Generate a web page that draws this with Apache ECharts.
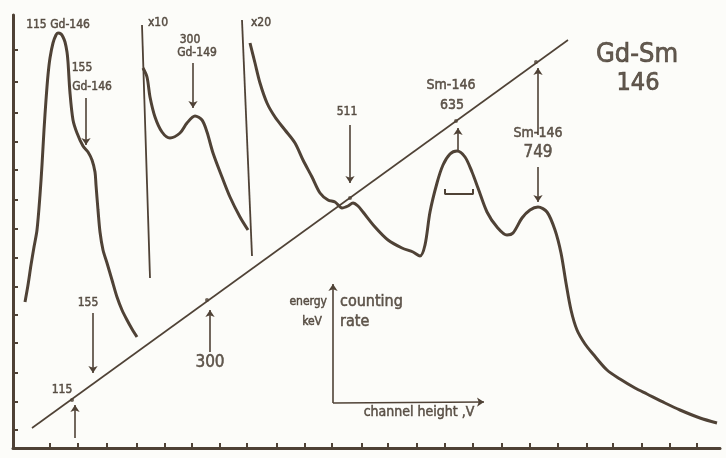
<!DOCTYPE html>
<html><head><meta charset="utf-8">
<script src="https://cdn.jsdelivr.net/npm/echarts@6/dist/echarts.min.js"></script>
<style>html,body{margin:0;padding:0;background:#fcfcf9}#c{width:726px;height:458px}</style>
</head><body><div id="c"></div><script>
// ---- data (channel height in arbitrary units, counting rate in arbitrary units) ----
const mainPeak = [[1.2,14.6],[1.5,16.3],[1.8,18.3],[2.1,20.1],[2.4,21.8],[2.7,25.3],[2.9,28.3],[3.1,31.8],[3.3,34.8],[3.5,37.3],[3.7,39.0],[4.0,40.5],[4.3,41.3],[4.5,41.5],[4.8,41.4],[5.0,41.1],[5.2,40.6],[5.4,39.6],[5.5,38.6],[5.7,35.5],[6.0,32.8],[6.4,31.5],[7.0,30.2],[7.5,29.6],[7.9,28.8],[8.2,27.6],[8.3,26.3],[8.5,23.8],[8.7,21.6],[9.0,19.8],[9.4,18.5],[9.9,16.8],[10.4,15.1],[10.9,13.8],[11.4,12.8],[11.9,11.9],[12.4,11.1]];
const x10Curve = [[13.0,38.0],[13.4,37.1],[13.7,35.1],[14.2,33.1],[14.9,31.6],[15.7,31.0],[16.7,31.5],[17.4,32.5],[18.2,33.2],[18.9,32.8],[19.4,31.6],[20.0,29.5],[20.9,27.1],[21.7,25.1],[22.7,23.1],[23.5,21.8]];
const x20Curve = [[23.7,40.5],[24.2,38.5],[24.7,36.5],[25.4,34.5],[26.2,33.1],[27.2,31.8],[28.2,30.5],[29.0,28.8],[29.9,27.1],[30.7,25.5],[31.5,24.8],[32.2,24.6],[32.9,24.0],[33.5,24.2],[34.0,24.5],[34.5,24.2],[35.0,23.6],[36.2,22.1],[37.5,20.8],[38.9,20.0],[40.0,19.6],[40.7,19.2],[41.2,20.3],[41.7,23.6],[42.4,26.5],[43.0,28.3],[43.7,29.4],[44.4,29.7],[45.2,29.1],[45.9,27.6],[46.5,26.0],[47.4,23.6],[48.4,22.1],[49.4,21.3],[50.0,21.5],[50.9,23.0],[51.7,23.8],[52.5,24.1],[53.4,23.6],[54.2,21.8],[54.8,19.5],[55.3,16.5],[55.8,13.8],[56.4,11.8],[57.2,10.4],[58.0,9.4],[59.4,7.8],[60.7,6.9],[62.2,6.0],[63.4,5.4],[65.2,4.5],[66.7,3.8],[68.7,3.0],[70.4,2.5]];
const x10Marker = [[12.9,42.3],[13.7,17.0]];
const x20Marker = [[22.9,42.8],[23.9,19.2]];
const calibLine = [[1.9,2.0],[55.5,40.8]];
const calibPoints = [[5.9,4.8,115],[19.4,14.8,300],[33.7,25.0,511],[44.3,32.7,635],[52.3,38.6,749]];
const fwhmBar = [[43.2,25.9],[43.2,25.4],[46.0,25.4],[46.0,25.9]];
const arrows = [
  [[7.3,35.0],[7.3,30.3]],
  [[18.0,38.5],[18.0,34.0]],
  [[33.7,32.3],[33.7,26.5]],
  [[44.5,29.8],[44.5,32.0]],
  [[52.5,31.3],[52.5,38.0]],
  [[52.5,28.1],[52.5,24.6]],
  [[8.0,13.5],[8.0,7.5]],
  [[6.2,1.0],[6.2,4.3]],
  [[19.7,9.6],[19.7,13.8]],
  [[32.0,4.5],[32.0,16.4]],
  [[32.0,4.5],[47.1,4.6]]
];
const xTicks = [3.7,6.5,9.4,12.4,15.2,17.9,20.7,23.4,26.4,29.2,31.9,34.9,37.5,40.4,43.2,46.0,48.9,51.7,54.5,57.4,60.0,62.9,65.7,68.4];
const yTicks = [1.8,4.6,7.5,10.5,13.3,16.1,19.0,21.9,24.8,27.8,30.6,33.5,36.6,39.8];
const smallLabels = [[4.5,42.3,'115 Gd-146'],[6.9,38.0,'155'],[7.9,36.1,'Gd-146'],[14.5,42.5,'x10'],[17.7,40.8,'300'],[18.4,39.5,'Gd-149'],[24.8,42.5,'x20'],[33.4,33.6,'511'],[7.5,14.5,'155'],[4.9,5.8,'115']];
const midLabels = [[43.8,36.3,'Sm-146'],[43.9,34.3,'635'],[52.5,31.5,'Sm-146'],[40.6,3.6,'channel height ,V']];
const bigLabels = [[52.5,29.5,'749'],[19.7,8.5,'300']];
const axisNameLeft = [[31.4,14.6,'energy'],[30.9,12.6,'keV']];
const axisNameRight = [[32.7,14.6,'counting'],[32.7,12.6,'rate']];
const titleLines = [[62.4,39.3,'Gd-Sm'],[62.5,36.5,'146']];

const INK = '#4f4236';
const TEXT_INK = '#3f3328';
const FONT = '"DejaVu Sans Condensed","Liberation Sans Narrow","DejaVu Sans",sans-serif';

function lineSeries(data, width, smooth) {
  return {type:'line', data, symbol:'none', smooth: smooth || false, silent:true,
    lineStyle:{color:INK, width}, z:3};
}
function textSeries(items, size, align, border) {
  return {type:'scatter', symbolSize:1, itemStyle:{color:'rgba(0,0,0,0)'}, silent:true, z:5,
    data: items.map(d => ({value:[d[0], d[1]], name:d[2]})),
    label:{show:true, position:'inside', formatter:'{b}', color:TEXT_INK, fontSize:size,
      fontFamily:FONT, align: align || 'center', verticalAlign:'middle',
      textBorderColor:TEXT_INK, textBorderWidth: border == null ? 0.5 : border}};
}

const chart = echarts.init(document.getElementById('c'), null, {renderer:'canvas'});
chart.setOption({
  backgroundColor:'#fcfcf9',
  animation:false,
  grid:{left:13, right:6, top:15, bottom:10},
  xAxis:[
    {type:'value', min:0, max:70.7, position:'bottom', splitLine:{show:false},
     axisLine:{show:true, lineStyle:{color:INK, width:3}},
     axisTick:{show:true, inside:true, length:5, lineStyle:{color:INK, width:2}, customValues:xTicks},
     axisLabel:{show:false}},
    {type:'value', min:0, max:70.7, position:'top', splitLine:{show:false},
     axisLine:{show:true, lineStyle:{color:INK, width:1.6}}, axisTick:{show:false}, axisLabel:{show:false}}
  ],
  yAxis:[
    {type:'value', min:0, max:43.3, position:'left', splitLine:{show:false},
     axisLine:{show:true, lineStyle:{color:INK, width:3}},
     axisTick:{show:true, inside:true, length:5, lineStyle:{color:INK, width:2}, customValues:yTicks},
     axisLabel:{show:false}},
    {type:'value', min:0, max:43.3, position:'right', splitLine:{show:false},
     axisLine:{show:true, lineStyle:{color:INK, width:1.6}}, axisTick:{show:false}, axisLabel:{show:false}}
  ],
  series:[
    lineSeries(mainPeak, 3, 0.3),
    lineSeries(x10Curve, 3, 0.3),
    lineSeries(x20Curve, 3, 0.3),
    lineSeries(x10Marker, 1.8),
    lineSeries(x20Marker, 1.8),
    lineSeries(calibLine, 1.6),
    lineSeries(fwhmBar, 2),
    {type:'scatter', data: calibPoints.map(p => ({value:[p[0], p[1]], name:String(p[2])})),
     symbolSize:4, itemStyle:{color:INK}, silent:true, z:4},
    {type:'lines', coordinateSystem:'cartesian2d', silent:true, z:4,
     symbol:['none','arrow'], symbolSize:7,
     lineStyle:{color:INK, width:1.6, opacity:1},
     data: arrows.map(a => ({coords:a}))},
    textSeries(smallLabels, 12),
    textSeries(midLabels, 14),
    textSeries(bigLabels, 17),
    textSeries(axisNameLeft, 12, 'right'),
    textSeries(axisNameRight, 16, 'left'),
    textSeries([titleLines[0]], 27, 'center', 0.7),
    textSeries([titleLines[1]], 25, 'center', 0.7)
  ]
});
</script></body></html>
